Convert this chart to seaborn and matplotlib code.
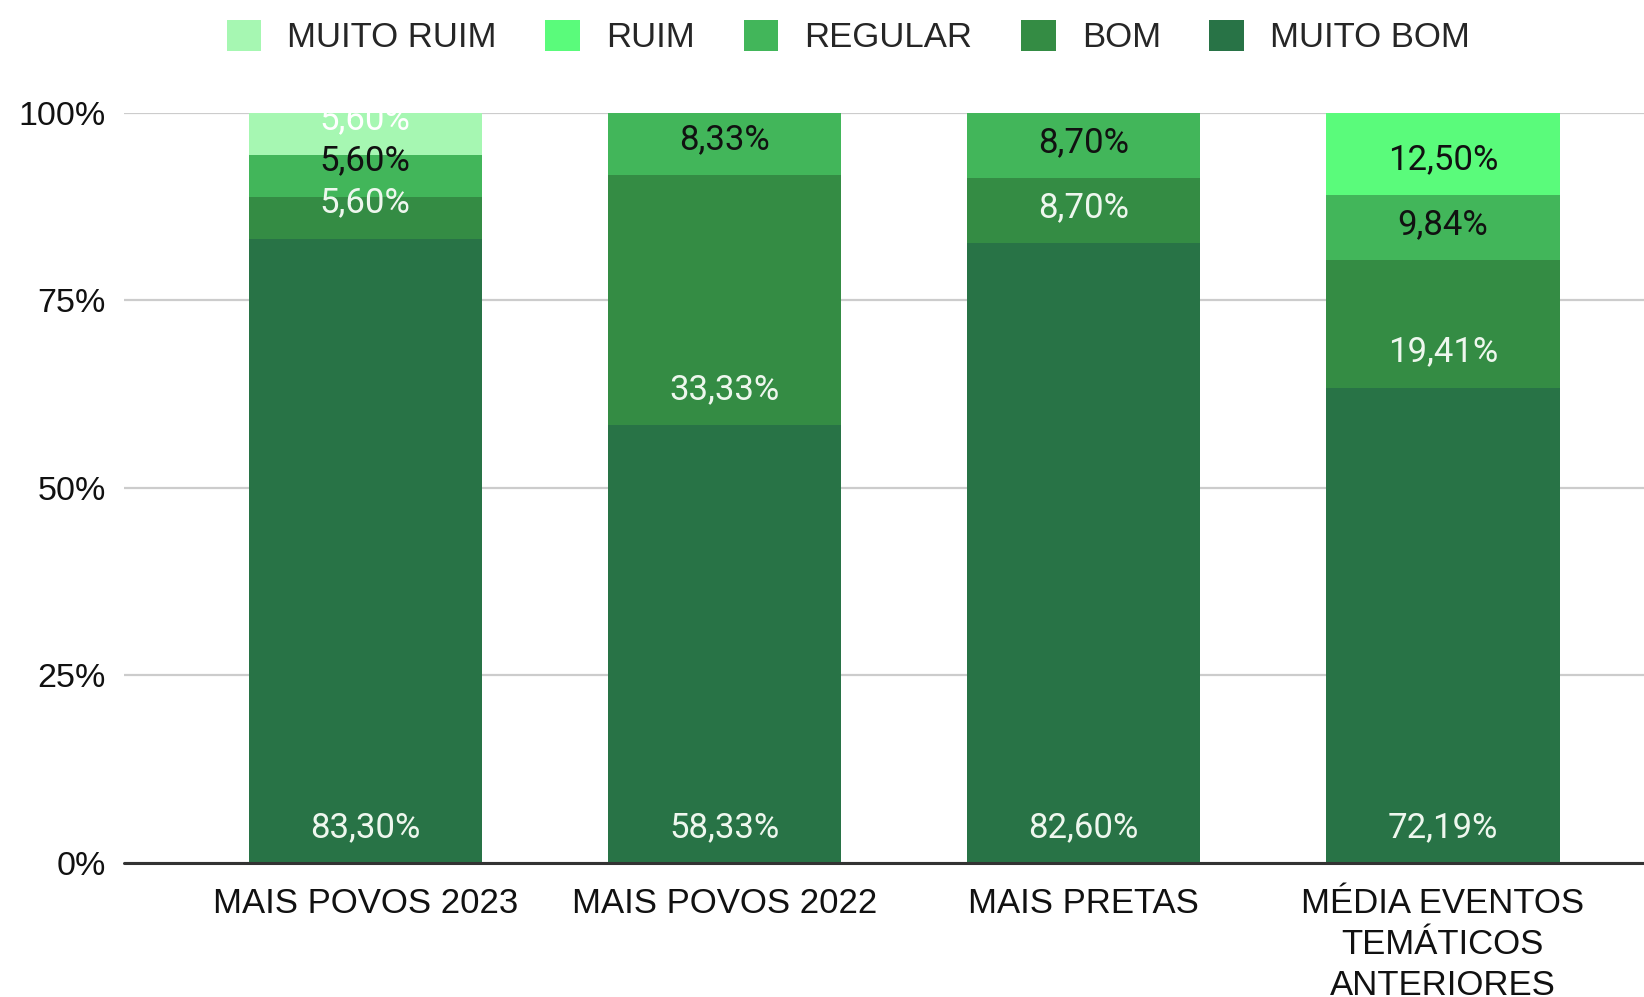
import numpy as np
import pandas as pd
import matplotlib
matplotlib.use("Agg")
import matplotlib.pyplot as plt
import seaborn as sns
from matplotlib.patches import Patch


# -----------------------------
# Data (raw values shown as labels, bars normalized to 100%)
# -----------------------------
categories = ["MAIS POVOS 2023", "MAIS POVOS 2022", "MAIS PRETAS",
              "MÉDIA EVENTOS\nTEMÁTICOS\nANTERIORES"]
series_names = ["MUITO BOM", "BOM", "REGULAR", "RUIM", "MUITO RUIM"]

muito_bom = [83.30, 58.33, 82.60, 72.19]
bom = [5.60, 33.33, 8.70, 19.41]
regular = [5.60, 8.33, 8.70, 9.84]
ruim = [0.0, 0.0, 0.0, 12.50]
muito_ruim = [5.60, 0.0, 0.0, 0.0]

colors = ["#287346", "#348c44", "#42b65a", "#5afb7b", "#a6f7b2"]
label_colors = ["#eef7ee", "#eef7ee", "#111111", "#111111", "#ffffff"]

values = np.array([muito_bom, bom, regular, ruim, muito_ruim])
totals = values.sum(axis=0)
pct = values / totals * 100
cum = np.cumsum(pct, axis=0)


# -----------------------------
# Style
# -----------------------------
sns.set_theme(style="white")
plt.rcParams["font.family"] = ["Liberation Sans", "DejaVu Sans"]

fig = plt.figure(figsize=(16.44, 9.97), dpi=100)
ax = fig.add_axes([0.0754, 0.1344, 0.9246, 0.7523])

# draw cumulative bars from the top layer down so lower layers cover them
for i in range(len(series_names) - 1, -1, -1):
    df = pd.DataFrame({"cat": categories, "val": cum[i]})
    sns.barplot(data=df, x="cat", y="val", color=colors[i], saturation=1,
                width=0.65, edgecolor="none", linewidth=0, ax=ax, zorder=3)

# data labels near the base of each segment
for i in range(len(series_names)):
    for j in range(len(categories)):
        v = values[i, j]
        if v <= 0:
            continue
        base = cum[i, j] - pct[i, j]
        txt = f"{v:.2f}".replace(".", ",") + "%"
        ax.text(j, base + 4.76, txt, ha="center", va="center",
                fontsize=25, color=label_colors[i], family="Roboto", zorder=5)

ax.set_xlim(-0.672, 3.56)
ax.set_ylim(0, 100)
ax.set_yticks([0, 25, 50, 75, 100])
ax.set_yticklabels(["0%", "25%", "50%", "75%", "100%"])
ax.set_xlabel("")
ax.set_ylabel("")

ax.yaxis.grid(True, color="#cccccc", linewidth=1.6, zorder=0)
ax.set_axisbelow(True)
for s in ["top", "right", "left", "bottom"]:
    ax.spines[s].set_visible(False)
ax.axhline(0, color="#333333", linewidth=2.2, zorder=6, clip_on=False)

ax.tick_params(axis="both", length=0, colors="#111111")
ax.tick_params(axis="y", labelsize=24.5, pad=13)
ax.tick_params(axis="x", labelsize=25, pad=17)
for lab in ax.get_xticklabels():
    lab.set_linespacing(1.32)

# legend on top
handles = [Patch(facecolor=colors[i], edgecolor="none") for i in range(len(series_names) - 1, -1, -1)]
labels = series_names[::-1]
fig.legend(handles, labels, loc="center", bbox_to_anchor=(0.516, 0.963), ncol=5,
           frameon=False, fontsize=25, handlelength=1.0, handleheight=1.0,
           handletextpad=0.75, columnspacing=1.4)

plt.savefig("out.png", dpi=100)
